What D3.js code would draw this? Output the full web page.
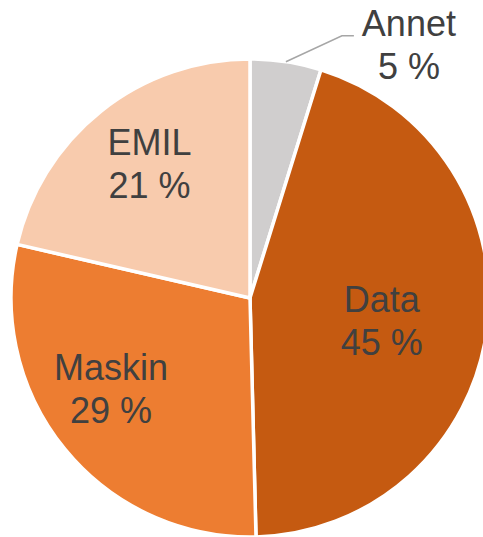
<!DOCTYPE html>
<html lang="no">
<head>
<meta charset="UTF-8">
<script src="https://d3js.org/d3.v7.min.js"></script>
<style>
  body { margin: 0; background: #fff; }
  text { font-family: "Liberation Sans", Arial, sans-serif; fill: #404040; }
</style>
</head>
<body>
<div id="chart"></div>
<script>
// data (share of total, %)
var categories = ["Annet", "Data", "Maskin", "EMIL"];
var shares = [4.8, 44.8, 29.0, 21.4];
var colors = ["#d0cece", "#c55a11", "#ed7d31", "#f8cbad"];

var width = 483, height = 537;
var cx = 250, cy = 298, radius = 239;

var svg = d3.select("#chart")
  .append("svg")
    .attr("width", width)
    .attr("height", height)
  .append("g")
    .attr("transform", "translate(" + cx + "," + cy + ")");

var data = categories.map(function(c, i) { return {name: c, value: shares[i], color: colors[i]}; });

var pie = d3.pie().sort(null).value(function(d) { return d.value; });
var arc = d3.arc().innerRadius(0).outerRadius(radius);
var arcs = pie(data);

svg.selectAll("path")
  .data(arcs)
  .enter()
  .append("path")
    .attr("d", arc)
    .style("fill", function(d) { return d.data.color; })
    .style("stroke", "#fff")
    .style("stroke-width", 3.5)
    .style("stroke-linejoin", "round");

// label placement: radius factor and small angle nudge (degrees) per slice,
// mimicking the "best fit" placement of the original
var labelPos = {
  Data:   {r: 0.56, da: 2},
  Maskin: {r: 0.695, da: 6},
  EMIL:   {r: 0.70, da: 1.6}
};
var fontSize = 36, lineGap = 43;

arcs.forEach(function(d) {
  var name = d.data.name;
  var pct = Math.round(d.data.value) + " %";
  var mid = (d.startAngle + d.endAngle) / 2;
  var g = svg.append("g");
  if (name === "Annet") {
    // outside label with leader line
    var p0 = [Math.sin(mid) * radius, -Math.cos(mid) * radius];
    var p1 = [p0[0] + 56, p0[1] - 26];
    var p2 = [p1[0] + 12, p1[1]];
    g.append("polyline")
      .attr("points", [p0, p1, p2].map(function(p) { return p.join(","); }).join(" "))
      .style("fill", "none")
      .style("stroke", "#a6a6a6")
      .style("stroke-width", 1.5);
    var tx = p2[0] + 55;
    g.append("text").attr("x", tx).attr("y", p2[1])
      .attr("text-anchor", "middle").style("font-size", fontSize + "px").text(name);
    g.append("text").attr("x", tx).attr("y", p2[1] + lineGap)
      .attr("text-anchor", "middle").style("font-size", fontSize + "px").text(pct);
  } else {
    var lp = labelPos[name];
    var r = radius * lp.r, a = mid + lp.da * Math.PI / 180;
    var x = Math.sin(a) * r, y = -Math.cos(a) * r;
    // two lines centred on (x, y)
    g.append("text").attr("x", x).attr("y", y - 9)
      .attr("text-anchor", "middle").style("font-size", fontSize + "px").text(name);
    g.append("text").attr("x", x).attr("y", y - 9 + lineGap)
      .attr("text-anchor", "middle").style("font-size", fontSize + "px").text(pct);
  }
});
</script>
</body>
</html>
